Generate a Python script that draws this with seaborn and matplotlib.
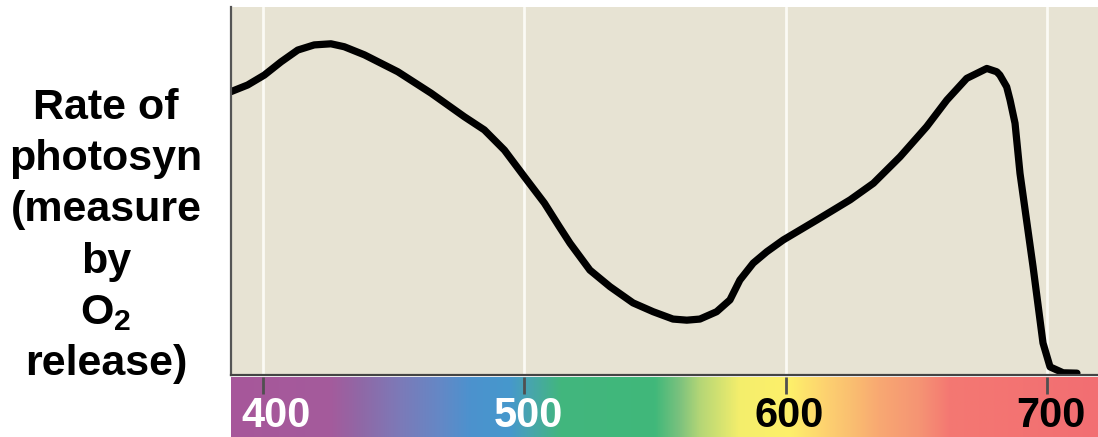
import numpy as np
import pandas as pd
import matplotlib
matplotlib.use("Agg")
import matplotlib.pyplot as plt
import matplotlib.transforms as mtransforms
from matplotlib.colors import LinearSegmentedColormap
import seaborn as sns

# ---- data ----
wavelength = [387.75, 394.1, 400.5, 406.9, 413.3, 419.6, 426.0, 431.1, 438.8, 451.6, 464.3,
              477.0, 484.7, 492.4, 500.0, 507.7, 513.4, 517.5, 525.1, 532.8, 541.6, 549.3,
              556.9, 562.2, 567.2, 573.6, 578.7, 582.5, 587.6, 592.8, 599.1, 611.9, 624.7,
              633.6, 643.8, 654.0, 661.7, 669.3, 677.0, 680.8, 682.0, 684.6, 685.9, 687.8,
              689.7, 694.7, 698.5, 701.2, 706.2, 711.5]
rate = [77.0, 78.8, 81.5, 85.1, 88.3, 89.7, 90.0, 89.2, 87.0, 82.4, 76.6,
        70.2, 66.6, 61.1, 53.9, 46.7, 40.3, 35.8, 28.5, 24.0, 19.6, 17.2,
        15.2, 14.9, 15.2, 17.2, 20.4, 25.8, 30.4, 33.5, 36.7, 42.1, 47.6,
        52.1, 59.3, 67.5, 74.7, 80.6, 83.3, 82.4, 81.5, 78.3, 74.7, 68.4,
        54.8, 29.4, 8.7, 2.2, 0.6, 0.5]

tick_values = [400, 500, 600, 700]
tick_labels = ["400", "500", "600", "700"]
tick_label_colors = ["white", "white", "black", "black"]

spectrum_nm = [386.6, 425.6, 437.1, 452.4, 467.7, 479.2, 494.5, 501.4, 513.7, 550.0,
               559.6, 567.2, 582.5, 601.7, 616.2, 624.6, 636.1, 651.4, 662.9, 719.6]
spectrum_colors = ["#A7579A", "#A45B9C", "#9068A6", "#7C7AB8", "#6488C6", "#4C92CE", "#4698CC",
                   "#48A4B0", "#42B67E", "#40B87A", "#7CC27E", "#B4D676", "#F4EE6C", "#FEF06A",
                   "#FDD070", "#FAC070", "#F8A872", "#F59474", "#F47872", "#F26E72"]

ylabel_text = "Rate of\nphotosyn\n(measure\nby\nO$_2$\nrelease)"

# ---- style ----
sns.set_style("white")
plt.rcParams["font.family"] = ["Liberation Sans", "DejaVu Sans"]
plt.rcParams["mathtext.fontset"] = "custom"
plt.rcParams["mathtext.rm"] = "Liberation Sans:bold"
plt.rcParams["mathtext.it"] = "Liberation Sans:bold"
plt.rcParams["mathtext.bf"] = "Liberation Sans:bold"

W, H = 1098, 437
fig = plt.figure(figsize=(W / 100, H / 100), dpi=100)

x0, x1 = 231, 1098
ax = fig.add_axes([x0 / W, 1 - 375 / H, (x1 - x0) / W, (375 - 7) / H])
sax = fig.add_axes([x0 / W, 0, (x1 - x0) / W, (437 - 377) / H])

xmin, xmax = 387.75, 719.55

# main plot
ax.set_facecolor("#E7E3D3")
df = pd.DataFrame({"wavelength": wavelength, "rate": rate})
sns.lineplot(data=df, x="wavelength", y="rate", ax=ax, color="black", linewidth=5.2,
             estimator=None, sort=False, solid_capstyle="round", solid_joinstyle="round")
ax.set_xlim(xmin, xmax)
ax.set_ylim(0, 100)
ax.set_xticks(tick_values)
ax.set_yticks([])
ax.grid(axis="x", color="#FBFAF4", linewidth=2)
ax.set_axisbelow(True)
ax.tick_params(axis="x", length=0, labelbottom=False)
ax.set_xlabel("")
ax.set_ylabel("")
for s in ["top", "right"]:
    ax.spines[s].set_visible(False)
ax.spines["left"].set_color("#555555")
ax.spines["left"].set_linewidth(1.6)
ax.spines["bottom"].set_color("#444444")
ax.spines["bottom"].set_linewidth(1.6)

# spectrum bar
cmap = LinearSegmentedColormap.from_list(
    "spec", [((n - spectrum_nm[0]) / (spectrum_nm[-1] - spectrum_nm[0]), c)
             for n, c in zip(spectrum_nm, spectrum_colors)], N=512)
grad = np.linspace(0, 1, 1024).reshape(1, -1)
sax.imshow(grad, aspect="auto", cmap=cmap,
           extent=[spectrum_nm[0], spectrum_nm[-1], 0, 1], interpolation="bilinear")
sax.set_xlim(xmin, xmax)
sax.set_ylim(0, 1)
sax.set_yticks([])
sax.set_xticks(tick_values)
sax.tick_params(axis="x", top=True, bottom=False, labelbottom=False, direction="in",
                length=12, width=2, color="#505050")
for s in sax.spines.values():
    s.set_visible(False)

for i, (v, lab, col) in enumerate(zip(tick_values, tick_labels, tick_label_colors)):
    dx = 13 if i == 0 else 4
    off = mtransforms.ScaledTranslation(dx / 100, 0, fig.dpi_scale_trans)
    sax.text(v, 0.01, lab, color=col, fontsize=30, fontweight="bold", ha="center",
             va="bottom", transform=mtransforms.blended_transform_factory(
                 sax.transData, sax.transAxes) + off)

fig.text(106 / W, 1 - 236 / H, ylabel_text, ha="center", va="center", multialignment="center",
         fontsize=31, fontweight="bold", linespacing=1.36, color="black")

fig.savefig("out.png", dpi=100)
